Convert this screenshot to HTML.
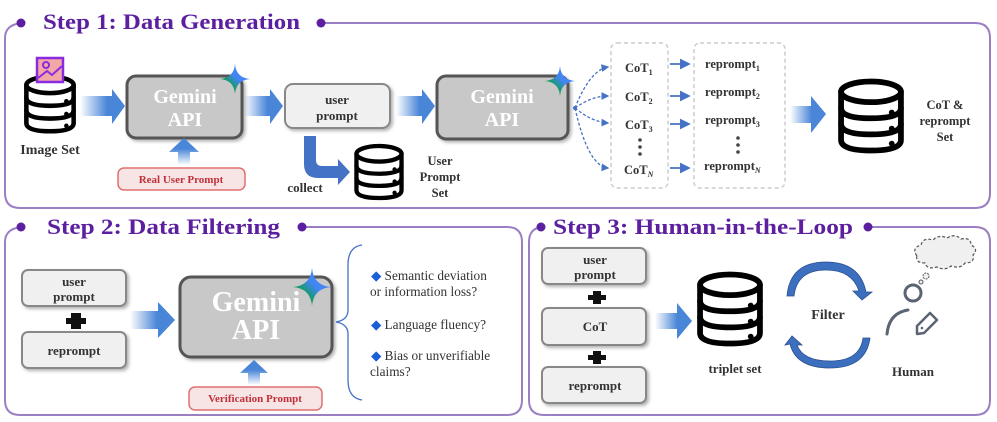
<!DOCTYPE html>
<html><head><meta charset="utf-8"><style>
html,body{margin:0;padding:0;background:#fff;}
svg{display:block;font-family:"Liberation Serif",serif;}
.t{font-weight:bold;fill:#333;}
</style></head><body>
<svg width="997" height="422" viewBox="0 0 997 422" xmlns="http://www.w3.org/2000/svg">
<defs>
<linearGradient id="ga" x1="0" x2="1" y1="0" y2="0"><stop offset="0" stop-color="#4a86d8" stop-opacity="0"/><stop offset="0.6" stop-color="#4a86d8"/><stop offset="1" stop-color="#4a86d8"/></linearGradient>
<linearGradient id="gu" x1="0" x2="0" y1="1" y2="0"><stop offset="0" stop-color="#4a86d8" stop-opacity="0"/><stop offset="0.6" stop-color="#4a86d8"/><stop offset="1" stop-color="#4a86d8"/></linearGradient>
<linearGradient id="gs" x1="0" x2="1" y1="1" y2="0"><stop offset="0" stop-color="#f4b400"/><stop offset="0.3" stop-color="#0f9d58"/><stop offset="0.55" stop-color="#4285f4"/><stop offset="0.8" stop-color="#4285f4"/><stop offset="1" stop-color="#db4437"/></linearGradient>
<symbol id="db" viewBox="0 0 60 66">
<g fill="none" stroke="#000" stroke-width="5" stroke-linecap="round">
<ellipse cx="30" cy="12" rx="26" ry="9"/>
<path d="M4 12 V54 Q4 63 30 63 Q56 63 56 54 V12"/>
<path d="M4 26 Q4 35 30 35 Q56 35 56 26"/>
<path d="M4 40 Q4 49 30 49 Q56 49 56 40"/>
</g>
<circle cx="48" cy="30" r="2.5"/><circle cx="48" cy="44" r="2.5"/><circle cx="48" cy="57" r="2.5"/>
</symbol>
<symbol id="star" viewBox="-13 -13 26 26"><path d="M0,-13 Q1,-1 13,0 Q1,1 0,13 Q-1,1 -13,0 Q-1,-1 0,-13Z" fill="url(#gs)"/></symbol>
<marker id="ah" markerWidth="6" markerHeight="6" refX="5" refY="3" orient="auto"><path d="M0,0 L6,3 L0,6Z" fill="#4472c4"/></marker>
<filter id="sh" x="-10%" y="-10%" width="130%" height="140%"><feDropShadow dx="2" dy="2" stdDeviation="1.5" flood-color="#000" flood-opacity="0.3"/></filter>
</defs>

<!-- Panels -->
<g fill="none" stroke="#9b7fc4" stroke-width="2">
<path d="M321 23 H975 Q990 23 990 38 V193 Q990 208 975 208 H20 Q5 208 5 193 V38 Q5 25 21 23"/>
<path d="M302 227 H507 Q522 227 522 242 V400 Q522 415 507 415 H20 Q5 415 5 400 V242 Q5 229 21 227"/>
<path d="M868 227 H975 Q990 227 990 242 V400 Q990 415 975 415 H544 Q529 415 529 400 V242 Q529 229 541 227"/>
</g>
<g fill="#5b1fa0">
<circle cx="21" cy="23" r="4.5"/><circle cx="321" cy="23" r="4.5"/>
<circle cx="21" cy="227" r="4.5"/><circle cx="302" cy="227" r="4.5"/>
<circle cx="541" cy="227" r="4.5"/><circle cx="868" cy="227" r="4.5"/>
</g>
<g font-size="22" font-weight="bold" fill="#5b1fa0">
<text x="43" y="29" textLength="257" lengthAdjust="spacingAndGlyphs">Step 1: Data Generation</text>
<text x="47" y="234" textLength="233" lengthAdjust="spacingAndGlyphs">Step 2: Data Filtering</text>
<text x="553" y="234" textLength="300" lengthAdjust="spacingAndGlyphs">Step 3: Human-in-the-Loop</text>
</g>

<!-- Step 1 -->
<use href="#db" x="22" y="74" width="56" height="60"/>
<rect x="37" y="58" width="26" height="24" fill="#f4a7a7" stroke="#8a2be2" stroke-width="2.5"/>
<circle cx="46" cy="65" r="3" fill="none" stroke="#8a2be2" stroke-width="2"/>
<path d="M38 78 L47 71 L52 75 L62 66" fill="none" stroke="#8a2be2" stroke-width="2"/>
<text class="t" x="50" y="154" font-size="14" text-anchor="middle">Image Set</text>

<path d="M80 96 H112 V89 L125 106 L112 124 V116 H80Z" fill="url(#ga)"/>
<rect x="127" y="76" width="115" height="62" rx="9" fill="#c8c8c8" stroke="#555" stroke-width="3" filter="url(#sh)"/>
<text x="185" y="103" font-size="20" font-weight="bold" fill="#fff" text-anchor="middle">Gemini</text>
<text x="185" y="126" font-size="20" font-weight="bold" fill="#fff" text-anchor="middle">API</text>
<use href="#star" x="220" y="64" width="30" height="30"/>
<path d="M178 165 V152 H169 L184 138 L199 152 H190 V165Z" fill="url(#gu)"/>
<rect x="118" y="168" width="127" height="22" rx="6" fill="#f7e4e4" stroke="#e07070" stroke-width="1.5"/>
<text x="181" y="183" font-size="11" font-weight="bold" fill="#c0303a" text-anchor="middle">Real User Prompt</text>

<path d="M244 96 H270 V89 L283 106 L270 124 V116 H244Z" fill="url(#ga)"/>
<rect x="285" y="84" width="105" height="44" rx="8" fill="#f0f0f0" stroke="#888" stroke-width="2" filter="url(#sh)"/>
<text class="t" x="337" y="104" font-size="13" text-anchor="middle" fill="#111">user</text>
<text class="t" x="337" y="120" font-size="13" text-anchor="middle" fill="#111">prompt</text>
<path d="M396 96 H422 V89 L435 106 L422 124 V116 H396Z" fill="url(#ga)"/>
<rect x="437" y="76" width="131" height="63" rx="9" fill="#c8c8c8" stroke="#555" stroke-width="3" filter="url(#sh)"/>
<text x="502" y="103" font-size="20" font-weight="bold" fill="#fff" text-anchor="middle">Gemini</text>
<text x="502" y="126" font-size="20" font-weight="bold" fill="#fff" text-anchor="middle">API</text>
<use href="#star" x="545" y="66" width="30" height="30"/>

<path d="M304 136 H316 V160 Q316 166 322 166 H338 V159 L350 172 L338 185 V178 H318 Q304 178 304 164Z" fill="#4472c4"/>
<text class="t" x="305" y="192" font-size="13" text-anchor="middle">collect</text>
<use href="#db" x="353" y="143" width="52" height="58"/>
<text class="t" x="440" y="165" font-size="12.5" text-anchor="middle">User</text>
<text class="t" x="440" y="181" font-size="12.5" text-anchor="middle">Prompt</text>
<text class="t" x="440" y="197" font-size="12.5" text-anchor="middle">Set</text>

<g fill="none" stroke="#4472c4" stroke-width="1.3" stroke-dasharray="3,2">
<path d="M575 108 Q590 70 608 67" marker-end="url(#ah)"/>
<path d="M575 108 Q592 96 608 96" marker-end="url(#ah)"/>
<path d="M575 108 Q592 122 608 123" marker-end="url(#ah)"/>
<path d="M575 108 Q588 166 608 168" marker-end="url(#ah)"/>
</g>
<circle cx="575" cy="108" r="2" fill="#4472c4"/>
<rect x="611" y="43" width="57" height="145" rx="6" fill="none" stroke="#ccc" stroke-width="1.5" stroke-dasharray="4,3"/>
<rect x="694" y="43" width="91" height="145" rx="6" fill="none" stroke="#ccc" stroke-width="1.5" stroke-dasharray="4,3"/>
<g class="t" font-size="12.5" fill="#333">
<text x="625" y="72">CoT<tspan font-size="8" dy="3">1</tspan></text>
<text x="625" y="101">CoT<tspan font-size="8" dy="3">2</tspan></text>
<text x="625" y="129">CoT<tspan font-size="8" dy="3">3</tspan></text>
<text x="624" y="174">CoT<tspan font-size="8" dy="3" font-style="italic">N</tspan></text>
<text x="705" y="68">reprompt<tspan font-size="8" dy="3">1</tspan></text>
<text x="705" y="96">reprompt<tspan font-size="8" dy="3">2</tspan></text>
<text x="705" y="124">reprompt<tspan font-size="8" dy="3">3</tspan></text>
<text x="704" y="170">reprompt<tspan font-size="8" dy="3" font-style="italic">N</tspan></text>
</g>
<g fill="#444"><circle cx="640" cy="140" r="1.8"/><circle cx="640" cy="147" r="1.8"/><circle cx="640" cy="154" r="1.8"/>
<circle cx="738" cy="138" r="1.8"/><circle cx="738" cy="145" r="1.8"/><circle cx="738" cy="152" r="1.8"/></g>
<g stroke="#4472c4" stroke-width="1.8" marker-end="url(#ah)">
<line x1="670" y1="64" x2="689" y2="64"/><line x1="670" y1="96" x2="689" y2="96"/>
<line x1="670" y1="124" x2="689" y2="124"/><line x1="670" y1="168" x2="689" y2="168"/>
</g>
<path d="M790 106 H811 V96 L826 114 L811 133 V123 H790Z" fill="url(#ga)"/>
<use href="#db" x="836" y="78" width="70" height="76"/>
<text class="t" x="945" y="109" font-size="12.5" text-anchor="middle">CoT &amp;</text>
<text class="t" x="945" y="125" font-size="12.5" text-anchor="middle">reprompt</text>
<text class="t" x="945" y="141" font-size="12.5" text-anchor="middle">Set</text>

<!-- Step 2 -->
<rect x="22" y="270" width="104" height="36" rx="6" fill="#f0f0f0" stroke="#888" stroke-width="2" filter="url(#sh)"/>
<text class="t" x="74" y="286" font-size="13" text-anchor="middle" fill="#111">user</text>
<text class="t" x="74" y="301" font-size="13" text-anchor="middle" fill="#111">prompt</text>
<path d="M71 313 H81 V318 H86 V324 H81 V329 H71 V324 H66 V318 H71Z" fill="#111"/>
<rect x="22" y="332" width="104" height="36" rx="6" fill="#f0f0f0" stroke="#888" stroke-width="2" filter="url(#sh)"/>
<text class="t" x="74" y="355" font-size="13" text-anchor="middle" fill="#111">reprompt</text>
<path d="M130 311 H158 V302 L175 320 L158 338 V329 H130Z" fill="url(#ga)"/>
<rect x="180" y="277" width="152" height="80" rx="11" fill="#c8c8c8" stroke="#555" stroke-width="3" filter="url(#sh)"/>
<text x="256" y="311" font-size="28" font-weight="bold" fill="#fff" text-anchor="middle">Gemini</text>
<text x="256" y="339" font-size="28" font-weight="bold" fill="#fff" text-anchor="middle">API</text>
<use href="#star" x="293" y="268" width="38" height="38"/>
<path d="M248 385 V373 H240 L254 360 L268 373 H260 V385Z" fill="url(#gu)"/>
<rect x="189" y="387" width="133" height="23" rx="6" fill="#f7e4e4" stroke="#e07070" stroke-width="1.5"/>
<text x="255" y="402" font-size="11" font-weight="bold" fill="#c0303a" text-anchor="middle">Verification Prompt</text>
<path d="M362 245 Q348 247 348 265 V310 Q348 320 336 322 Q348 324 348 334 V380 Q348 398 362 400" fill="none" stroke="#4472c4" stroke-width="1.3"/>
<g font-size="13.3" fill="#333">
<text x="371" y="280"><tspan fill="#1a5fd6">◆</tspan> Semantic deviation</text>
<text x="370" y="296">or information loss?</text>
<text x="371" y="329"><tspan fill="#1a5fd6">◆</tspan> Language fluency?</text>
<text x="371" y="360"><tspan fill="#1a5fd6">◆</tspan> Bias or unverifiable</text>
<text x="370" y="376">claims?</text>
</g>

<!-- Step 3 -->
<rect x="542" y="248" width="104" height="36" rx="6" fill="#f0f0f0" stroke="#888" stroke-width="2" filter="url(#sh)"/>
<text class="t" x="595" y="264" font-size="13" text-anchor="middle" fill="#111">user</text>
<text class="t" x="595" y="279" font-size="13" text-anchor="middle" fill="#111">prompt</text>
<path d="M593 291 H601 V295 H606 V300 H601 V304 H593 V300 H588 V295 H593Z" fill="#111"/>
<rect x="542" y="308" width="104" height="37" rx="6" fill="#f0f0f0" stroke="#888" stroke-width="2" filter="url(#sh)"/>
<text class="t" x="595" y="331" font-size="13" text-anchor="middle" fill="#111">CoT</text>
<path d="M593 351 H601 V355 H606 V360 H601 V364 H593 V360 H588 V355 H593Z" fill="#111"/>
<rect x="542" y="367" width="104" height="36" rx="6" fill="#f0f0f0" stroke="#888" stroke-width="2" filter="url(#sh)"/>
<text class="t" x="595" y="390" font-size="13" text-anchor="middle" fill="#111">reprompt</text>
<path d="M655 313 H677 V303 L692 321 L677 339 V329 H655Z" fill="url(#ga)"/>
<use href="#db" x="695" y="271" width="70" height="76"/>
<text class="t" x="735" y="373" font-size="13" text-anchor="middle">triplet set</text>
<path d="M787 296 Q790 262 826 262 Q860 262 866 292 L872 292 L862 300 L853 291 L859 291 Q852 270 826 270 Q797 270 794 296Z" fill="#3d6fbf" stroke="#2a4f8f" stroke-width="0.8"/>
<path d="M870 338 Q866 368 830 368 Q796 368 790 344 L785 345 L792 336 L802 345 L797 345 Q803 361 830 361 Q860 361 863 338Z" fill="#3d6fbf" stroke="#2a4f8f" stroke-width="0.8"/>
<text class="t" x="828" y="319" font-size="14" text-anchor="middle">Filter</text>
<path d="M917 256 q-6 -8 4 -11 q2 -8 12 -5 q6 -6 14 -2 q8 -5 14 1 q10 -2 10 6 q8 4 2 10 q2 8 -8 8 q-4 6 -14 3 q-6 5 -14 1 q-10 3 -12 -4 q-10 0 -8 -7Z" fill="#f0f0f0" stroke="#555" stroke-width="1.2" stroke-dasharray="3,2"/>
<circle cx="926" cy="276" r="3" fill="#f0f0f0" stroke="#555" stroke-width="1" stroke-dasharray="2,1"/>
<circle cx="921" cy="282" r="2" fill="#f0f0f0" stroke="#555" stroke-width="1"/>
<circle cx="913" cy="293" r="8" fill="none" stroke="#5a6472" stroke-width="3"/>
<path d="M887 334 Q889 313 908 310" fill="none" stroke="#5a6472" stroke-width="3" stroke-linecap="round"/>
<path d="M917 334 L917 326 L930 313 L937 320 L924 333Z" fill="none" stroke="#5a6472" stroke-width="2.5" stroke-linejoin="round"/>
<circle cx="922" cy="328" r="1.3" fill="#5a6472"/>
<text class="t" x="913" y="376" font-size="13" text-anchor="middle">Human</text>
</svg>
</body></html>
